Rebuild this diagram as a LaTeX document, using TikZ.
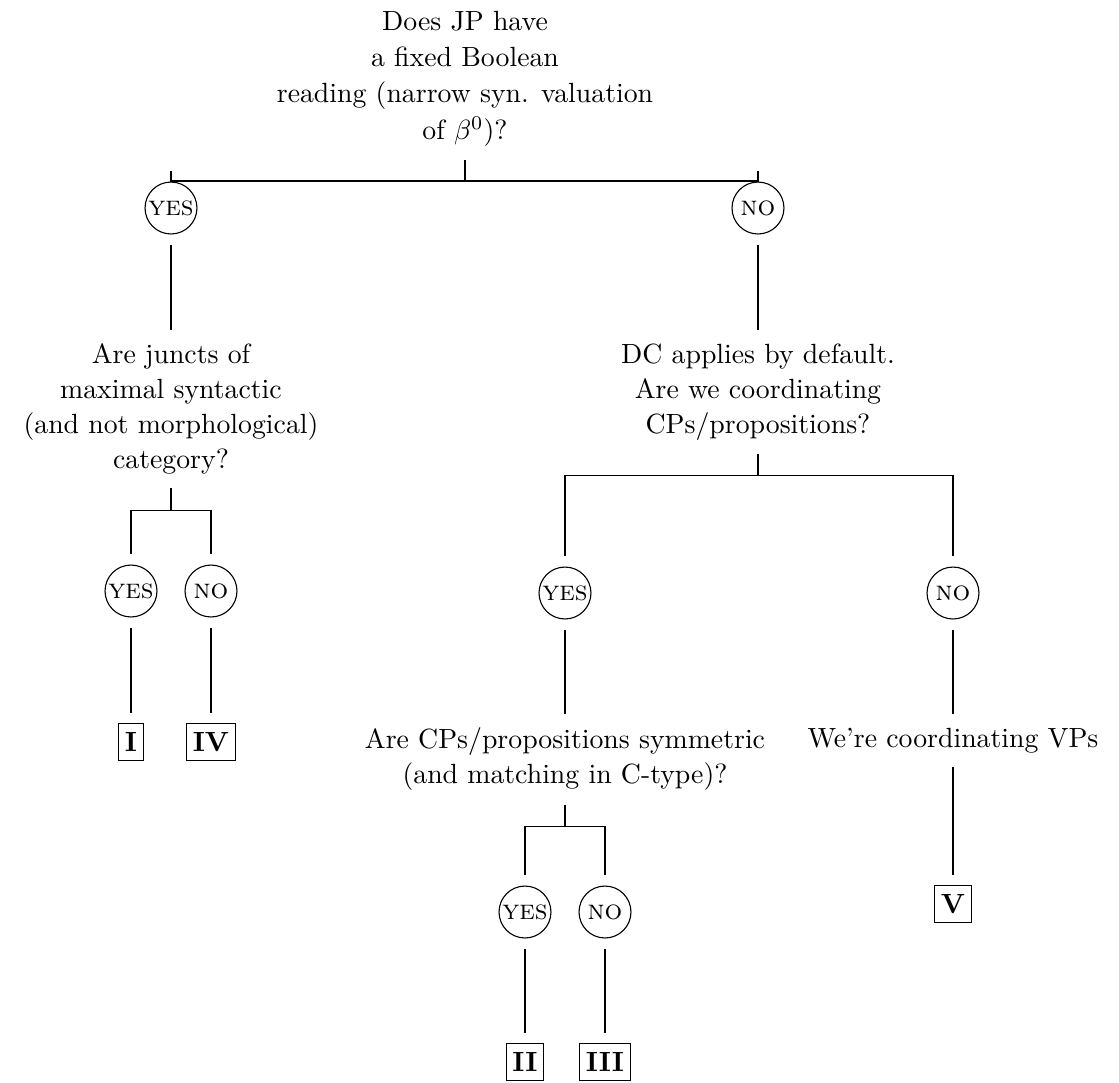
\documentclass[tikz,border=0pt]{standalone}
\begin{document}
\begin{tikzpicture}[x=0.36pt, y=-0.36pt,
		question/.style={align=center, inner sep=1.5pt, outer sep=3.5pt, font=\fontsize{10}{12.6}\selectfont},
		answer/.style={draw, circle, minimum size=18.7pt, inner sep=0.5pt, outer sep=4pt, font=\scshape},
		verdict/.style={draw, inner xsep=2.2pt, minimum height=13.6pt, outer sep=3.5pt, font=\bfseries}]
				\useasboundingbox (0, 0) rectangle (1119, 1082);
				\coordinate (top) at (465, -3);
				\coordinate (left) at (171, 208);
				\coordinate (right) at (758, 208);
				% questions
				\node[question, anchor=north, font=\fontsize{10}{13.1}\selectfont] (root) at (top) {Does JP have\\a fixed Boolean\\reading (narrow syn. valuation\\of $\beta^0$)?};
				\node[question, anchor=north] (juncts) at (171, 330) {Are juncts of\\maximal syntactic\\(and not morphological)\\category?};
				\node[question, anchor=north] (default) at (758, 330) {DC applies by default.\\Are we coordinating\\CPs/propositions?};
				\node[question, anchor=north] (symm) at (565, 714) {Are CPs/propositions symmetric\\(and matching in C-type)?};
				\node[question, anchor=north] (vps) at (953, 714) {We're coordinating VPs};
				% yes / no
				\node[answer] (yes0) at (left) {yes};
				\node[answer] (no0) at (right) {no};
				\node[answer] (yes1) at (131, 591) {yes};
				\node[answer] (no1) at (211, 591) {no};
				\node[answer] (yes2) at (565, 593) {yes};
				\node[answer] (no2) at (953, 593) {no};
				\node[answer] (yes3) at (525, 912) {yes};
				\node[answer] (no3) at (605, 912) {no};
				% outcomes
				\node[verdict] (one) at (131, 742) {I};
				\node[verdict] (four) at (211, 742) {IV};
				\node[verdict] (five) at (953, 904) {V};
				\node[verdict] (two) at (525, 1062) {II};
				\node[verdict] (three) at (605, 1062) {III};
				% forks
				\draw (root.south) -- (465, 181) -| (yes0.north);
				\draw (root.south) -- (465, 181) -| (no0.north);
				\draw (juncts.south) -- ++(0, 22) -| (yes1.north);
				\draw (juncts.south) -- ++(0, 22) -| (no1.north);
				\draw (default.south) -- ++(0, 21) -| (yes2.north);
				\draw (default.south) -- ++(0, 21) -| (no2.north);
				\draw (symm.south) -- ++(0, 22) -| (yes3.north);
				\draw (symm.south) -- ++(0, 22) -| (no3.north);
				% straight edges
				\draw (yes0.south) -- (juncts.north);
				\draw (no0.south) -- (default.north);
				\draw (yes1.south) -- (one.north);
				\draw (no1.south) -- (four.north);
				\draw (yes2.south) -- (symm.north);
				\draw (no2.south) -- (vps.north);
				\draw (vps.south) -- (five.north);
				\draw (yes3.south) -- (two.north);
				\draw (no3.south) -- (three.north);
			\end{tikzpicture}
\end{document}
